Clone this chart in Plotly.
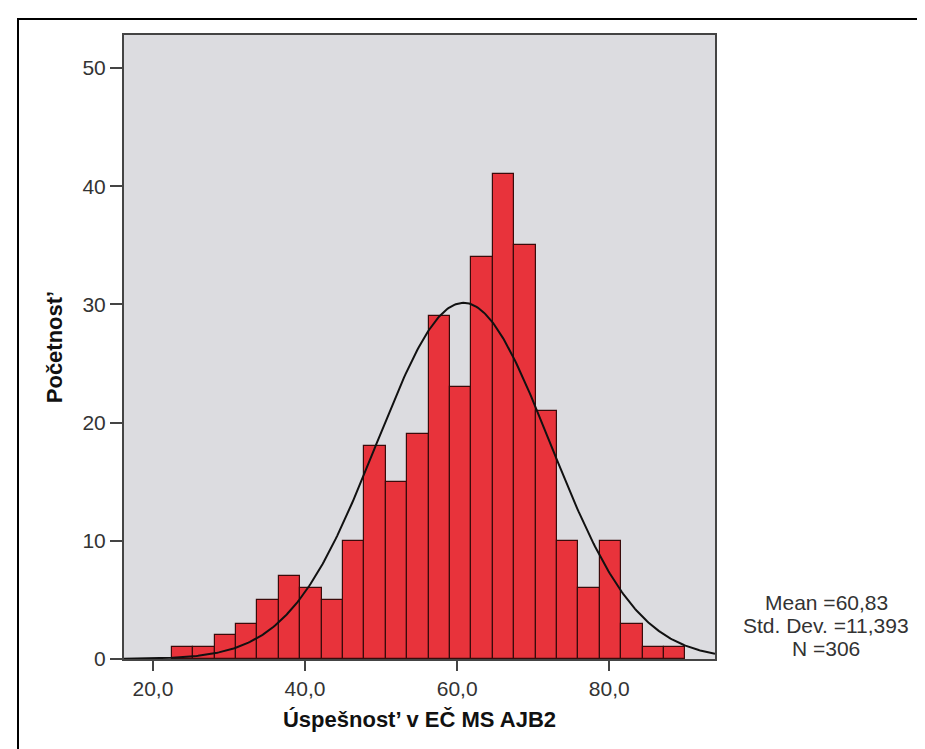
import numpy as np
import plotly.graph_objects as go

# Histogram data (SPSS output)
BIN_LEFT = [22.5, 25.3125, 28.125, 30.9375, 33.75, 36.5625, 39.375, 42.1875,
            45.0, 47.8125, 50.625, 53.4375, 56.25, 59.0625, 61.875, 64.6875,
            67.5, 70.3125, 73.125, 75.9375, 78.75, 81.5625, 84.375, 87.1875]
COUNTS = [1, 1, 2, 3, 5, 7, 6, 5, 10, 18, 15, 19, 29, 23, 34, 41, 35, 21,
          10, 6, 10, 3, 1, 1]
MEAN = 60.83
STD_DEV = 11.393
N = 306
X_TICKS = [20, 40, 60, 80]
X_TICK_LABELS = ['20,0', '40,0', '60,0', '80,0']
Y_TICKS = [0, 10, 20, 30, 40, 50]

# Style
BAR_COLOR = '#e8333b'
BAR_LINE = '#3a0b0b'
PLOT_BG = '#dcdce0'
AXIS_COLOR = '#444444'
TEXT_COLOR = '#333333'
TICK_FONT = 'Liberation Sans, Arial, sans-serif'
TITLE_FONT = 'Liberation Sans Narrow, Arial Narrow, Liberation Sans, sans-serif'

X_RANGE = (16.2, 93.9)
Y_RANGE = (0, 52.8)

bin_width = BIN_LEFT[1] - BIN_LEFT[0]
centers = [b + bin_width / 2 for b in BIN_LEFT]

fig = go.Figure()

# Bars
fig.add_trace(go.Bar(
    x=centers, y=COUNTS, width=bin_width,
    marker=dict(color=BAR_COLOR, line=dict(color=BAR_LINE, width=1.2)),
    hoverinfo='x+y'
))

# Normal curve scaled to counts
xs = np.linspace(X_RANGE[0], X_RANGE[1], 400)
ys = N * bin_width / (STD_DEV * np.sqrt(2 * np.pi)) * np.exp(-0.5 * ((xs - MEAN) / STD_DEV) ** 2)
fig.add_trace(go.Scatter(
    x=xs, y=ys, mode='lines',
    line=dict(color='#111111', width=2),
    hoverinfo='none'
))

fig.update_layout(
    width=925, height=749,
    margin=dict(l=116, r=218, t=27, b=98),
    paper_bgcolor='white',
    plot_bgcolor=PLOT_BG,
    showlegend=False,
    bargap=0,
    xaxis=dict(
        range=X_RANGE, tickvals=X_TICKS, ticktext=X_TICK_LABELS,
        showgrid=False, zeroline=False,
        showline=True, linecolor=AXIS_COLOR, linewidth=2, mirror=True,
        ticks='outside', ticklen=10, tickwidth=2, tickcolor=AXIS_COLOR,
        tickfont=dict(family=TICK_FONT, size=21, color=TEXT_COLOR),
        title=dict(text='<b>Úspešnost\u2019 v EČ MS AJB2</b>', standoff=12,
                   font=dict(family=TITLE_FONT, size=22, color='#111111')),
    ),
    yaxis=dict(
        range=Y_RANGE, tickvals=Y_TICKS,
        showgrid=False, zeroline=False,
        showline=True, linecolor=AXIS_COLOR, linewidth=2, mirror=True,
        ticks='outside', ticklen=12, tickwidth=2, tickcolor=AXIS_COLOR,
        tickfont=dict(family=TICK_FONT, size=21, color=TEXT_COLOR),
        title=dict(text='<b>Početnost\u2019</b>', standoff=14,
                   font=dict(family=TITLE_FONT, size=22, color='#111111')),
    ),
)

# Statistics text
stats = ['Mean =60,83', 'Std. Dev. =11,393', 'N =306']
for i, line in enumerate(stats):
    fig.add_annotation(
        xref='paper', yref='paper',
        x=(818 - 116) / 591, y=(651 - 594 - i * 23) / 624,
        text=line, showarrow=False, xanchor='center', yanchor='middle',
        font=dict(family=TICK_FONT, size=21, color=TEXT_COLOR)
    )

# Outer frame
fig.add_shape(
    type='rect', xref='paper', yref='paper',
    x0=(10 - 116) / 591, x1=(919 - 116) / 591,
    y0=(651 - 760) / 624, y1=(651 - 11) / 624,
    line=dict(color='black', width=2), layer='below'
)

fig.write_html('out.html')
